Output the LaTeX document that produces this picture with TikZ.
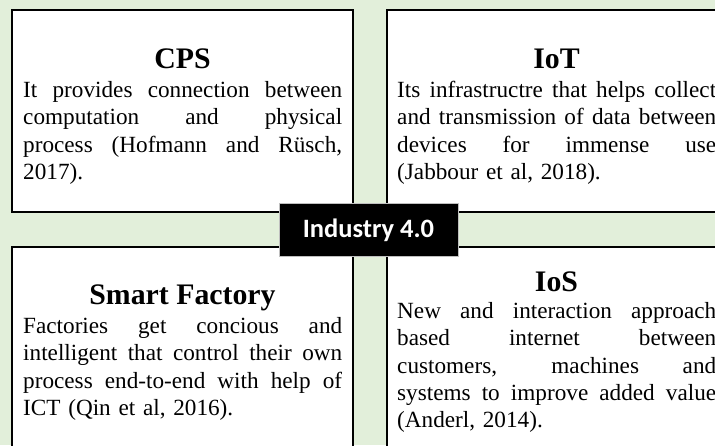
\documentclass[tikz,border=0pt]{standalone}
\usepackage{fontspec}
\setmainfont{Liberation Serif}
\newfontfamily\calfont{Carlito}
\definecolor{bg}{HTML}{E2EFDA}
\newcommand\jline[1]{\leavevmode\hbox to 319pt{\spaceskip=1pt plus 1fil\relax #1}}
\begin{document}
\begin{tikzpicture}[x=1pt,y=-1pt,
  panel/.style={draw=black, line width=2pt, fill=white, inner sep=0, outer sep=0},
  ttl/.style={anchor=base, inner sep=0, font=\fontsize{29.8}{34}\selectfont\bfseries},
  body/.style={anchor=north west, inner sep=0, text width=319pt, align=left, font=\fontsize{23.2}{27.4}\selectfont},
  hub/.style={fill=black, draw=gray!50, line width=0.6pt, inner sep=0, minimum width=179pt, minimum height=53pt},
  hubtext/.style={anchor=base, inner sep=0, text=white, font=\calfont\bfseries\fontsize{26.5}{30}\selectfont}]
\useasboundingbox (0,0) rectangle (715,445);
\clip (0,0) rectangle (715,445);
\fill[bg] (0,0) rectangle (715,445);

% panels
\node[panel, minimum width=341pt, minimum height=202pt] (cps) at (182.5,111) {};
\node[panel, minimum width=353pt, minimum height=202pt] (iot) at (563.5,111) {};
\node[panel, minimum width=341pt, minimum height=223pt] (sf)  at (182.5,358.5) {};
\node[panel, minimum width=353pt, minimum height=223pt] (ios) at (563.5,358.5) {};

% titles
\node[ttl] (cpsT) at (182.5,68) {CPS};
\node[ttl] (iotT) at (556.5,68) {IoT};
\node[ttl] (sfT)  at (182.5,304) {Smart Factory};
\node[ttl] (iosT) at (556.5,291) {IoS};

% bodies
\node[body] (cpsB) at (23,77) {\rule{0pt}{20pt}\jline{It provides connection between}\\
\jline{computation and physical}\\
\jline{process (Hofmann and Rüsch,}\\
2017).};
\node[body] (iotB) at (397,77) {\rule{0pt}{20pt}\jline{Its infrastructre that helps collect}\\
\jline{and transmission of data between}\\
\jline{devices for immense use}\\
(Jabbour et al, 2018).};
\node[body] (sfB) at (23,313) {\rule{0pt}{20pt}\jline{Factories get concious and}\\
\jline{intelligent that control their own}\\
\jline{process end-to-end with help of}\\
ICT (Qin et al, 2016).};
\node[body] (iosB) at (397,298) {\rule{0pt}{20pt}\jline{New and interaction approach}\\
\jline{based internet between}\\
\jline{customers, machines and}\\
\jline{systems to improve added value}\\
(Anderl, 2014).};

% hub
\node[hub] (hub) at (368.5,229.5) {};
\node[hubtext] (hubT) at (368.5,237) {Industry 4.0};
\end{tikzpicture}
\end{document}
